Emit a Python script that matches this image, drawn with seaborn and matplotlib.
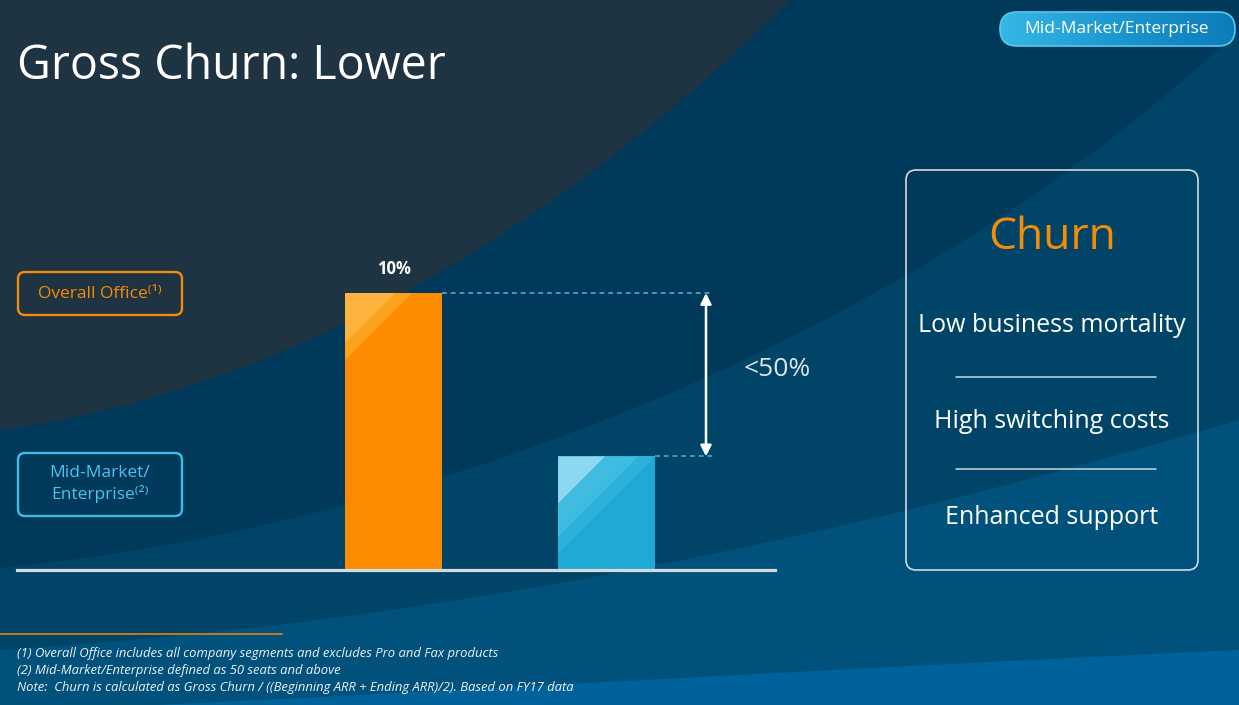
import numpy as np
import matplotlib.pyplot as plt
import seaborn as sns
from matplotlib.patches import FancyBboxPatch, Polygon
from matplotlib.colors import LinearSegmentedColormap

# chart data
segments = ["Overall Office", "Mid-Market/Enterprise"]
gross_churn = [10.0, 4.1]
bar_colors = ["#fd8b00", "#1fa9d5"]
value_labels = ["10%", ""]
gap_label = "<50%"
legend_labels = ["Overall Office\u207d\u00b9\u207e", "Mid-Market/\nEnterprise\u207d\u00b2\u207e"]
box_title = "Churn"
churn_drivers = ["Low business mortality", "High switching costs", "Enhanced support"]
badge_text = "Mid-Market/Enterprise"
title = "Gross Churn: Lower"
footnotes = [
    "(1) Overall Office includes all company segments and excludes Pro and Fax products",
    "(2) Mid-Market/Enterprise defined as 50 seats and above",
    "Note:  Churn is calculated as Gross Churn / ((Beginning ARR + Ending ARR)/2). Based on FY17 data",
]

sns.set_style("white")
plt.rcParams["font.family"] = ["Open Sans", "DejaVu Sans"]

W, H = 1239, 705
fig = plt.figure(figsize=(W / 100, H / 100), dpi=100)

# background layer in pixel coordinates
bg = fig.add_axes([0, 0, 1, 1])
bg.set_xlim(0, W)
bg.set_ylim(H, 0)
bg.axis("off")


def bezier(p0, p1, p2, p3, n=120):
    t = np.linspace(0, 1, n)[:, None]
    p0, p1, p2, p3 = map(np.array, (p0, p1, p2, p3))
    return (1 - t) ** 3 * p0 + 3 * (1 - t) ** 2 * t * p1 + 3 * (1 - t) * t ** 2 * p2 + t ** 3 * p3


def band_above(curve, color):
    pts = list(map(tuple, curve))
    pts += [(pts[-1][0], -5), (-5, -5), (-5, pts[0][1])]
    bg.add_patch(Polygon(pts, closed=True, color=color, lw=0, zorder=0))


bg.add_patch(Polygon([(-5, -5), (W + 5, -5), (W + 5, H + 5), (-5, H + 5)], color="#00629a", lw=0, zorder=0))
band_above(bezier((0, 712), (400, 695), (800, 670), (W, 650)), "#00527c")
band_above(bezier((0, 650), (500, 618), (900, 520), (W, 420)), "#004568")
band_above(bezier((0, 568), (400, 530), (900, 350), (W, 30)), "#00395a")
band_above(bezier((0, 430), (300, 390), (580, 210), (790, 0)), "#1e3442")

# title
bg.text(17, 66, title, fontsize=33.5, color="white", va="center", ha="left")

# top-right badge with a gradient fill
badge = FancyBboxPatch((1000, 12), 235, 34, boxstyle="round,pad=0,rounding_size=17",
                       fc="none", ec="#5ac7ee", lw=1.2, zorder=3)
bg.add_patch(badge)
grad = np.linspace(0, 1, 256)[None, :]
cmap = LinearSegmentedColormap.from_list("badge", ["#35b8e6", "#1c97d0", "#0c7cba"])
im = bg.imshow(grad, extent=[1000, 1235, 46, 12], cmap=cmap, aspect="auto", zorder=2)
im.set_clip_path(badge)
bg.set_xlim(0, W)
bg.set_ylim(H, 0)
bg.text(1117, 29, badge_text, fontsize=12.5, color="white", ha="center", va="center", zorder=4)

# legend-like boxes on the left
bg.add_patch(FancyBboxPatch((18, 272), 164, 43, boxstyle="round,pad=0,rounding_size=7",
                            fc="none", ec="#f68b06", lw=1.7))
bg.text(100, 294, legend_labels[0], fontsize=12.5, color="#f68b06", ha="center", va="center")
bg.add_patch(FancyBboxPatch((18, 453), 164, 63, boxstyle="round,pad=0,rounding_size=7",
                            fc="none", ec="#3ebde9", lw=1.7))
bg.text(100, 484, legend_labels[1], fontsize=12.5, color="#4cc2ec", ha="center", va="center",
        linespacing=1.3)

# bar chart
ax_left, ax_right, ax_bottom, ax_top = 17, 775, 570, 237.6
ax = fig.add_axes([ax_left / W, (H - ax_bottom) / H, (ax_right - ax_left) / W, (ax_bottom - ax_top) / H])
sns.barplot(x=segments, y=gross_churn, hue=segments, palette=bar_colors, width=0.455,
            saturation=1, legend=False, edgecolor="none", linewidth=0, ax=ax)
ax.set_xlim(-1.768, 1.791)
ax.set_ylim(0, 12)
ax.patch.set_alpha(0)
for side in ["top", "left", "right"]:
    ax.spines[side].set_visible(False)
ax.spines["bottom"].set_color("#d6dadd")
ax.spines["bottom"].set_linewidth(2.3)
ax.spines["bottom"].set_zorder(5)
ax.set_xticks([])
ax.set_yticks([])
ax.set_xlabel("")
ax.set_ylabel("")

px_x = (ax_right - ax_left) / (1.791 + 1.768)
px_y = (ax_bottom - ax_top) / 12

# light diagonal sheen in the top-left corner of each bar
sheens = [
    [(67, "#fca21c"), (50, "#fdb43f")],
    [(97, "#2cb1db"), (80, "#3fbce2"), (47, "#8bd8f0")],
]
bars = [c.patches[0] for c in ax.containers]
for bar, layers in zip(bars, sheens):
    x0 = bar.get_x()
    top = bar.get_height()
    for leg, col in layers:
        tri = Polygon([(x0, top), (x0 + leg / px_x, top), (x0, top - leg / px_y)],
                      closed=True, color=col, lw=0, zorder=bar.get_zorder() + 0.1)
        ax.add_patch(tri)
        tri.set_clip_path(bar)

ax.bar_label(ax.containers[0], labels=[value_labels[0]], padding=11, color="white",
             fontsize=12, fontweight="bold")

# dashed guides and the double arrow
arrow_x = 1.467
for bar, val in zip(bars, gross_churn):
    ax.hlines(val, bar.get_x() + bar.get_width(), arrow_x + 0.03, colors="#3a9cc6",
              linestyles=(0, (2.5, 2)), lw=1.4)
ax.annotate("", xy=(arrow_x, gross_churn[1]), xytext=(arrow_x, gross_churn[0]),
            arrowprops=dict(arrowstyle="<|-|>", color="white", lw=1.8, mutation_scale=16,
                            shrinkA=0, shrinkB=0))
bg.text(777, 369, gap_label, fontsize=19, color="#dde3e7", ha="center", va="center")

# right-hand summary box
bg.add_patch(FancyBboxPatch((906, 170), 292, 400, boxstyle="round,pad=0,rounding_size=10",
                            fc="none", ec="#d3dbe0", lw=1.2))
bg.text(1052, 238, box_title, fontsize=32, color="#f68b06", ha="center", va="center")
for i, txt in enumerate(churn_drivers):
    bg.text(1052, 325 + 96 * i, txt, fontsize=18, color="white", ha="center", va="center")
for y in [377, 469]:
    bg.plot([956, 1156], [y, y], color="#cdd5da", lw=1.1)

# footnotes
bg.plot([0, 282], [634, 634], color="#c47a1d", lw=1.4)
for i, note in enumerate(footnotes):
    bg.text(17, 654 + 16.5 * i, note, fontsize=9.4, style="italic", color="#eef1f3",
            ha="left", va="center")

fig.savefig("out.png", dpi=100)
